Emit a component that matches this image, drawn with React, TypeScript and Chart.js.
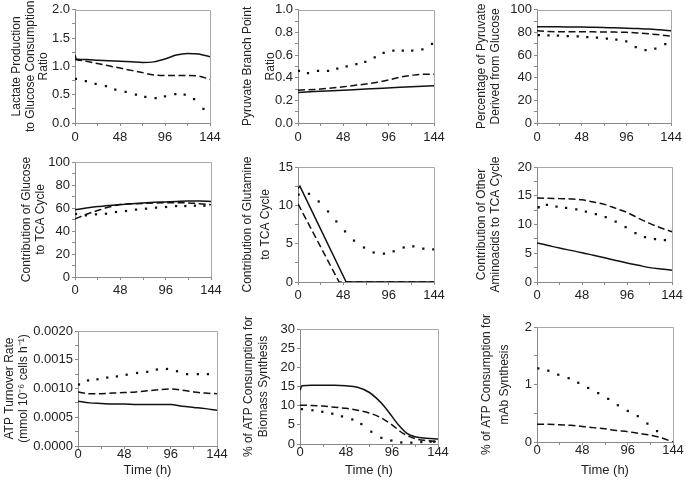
import React, { useEffect, useRef } from 'react';
import { Chart, registerables } from 'chart.js';
Chart.register(...registerables);

const FONT = "'Liberation Sans', Arial, Helvetica, sans-serif";

// ---------- data ----------
const timeGrid = [0, 12, 24, 36, 48, 60, 72, 84, 96, 108, 120, 132, 144];

// Panel 1: Lactate production / glucose consumption ratio
const lactateSolidT = [0, 1.5, 12, 24, 36, 48, 60, 72, 84, 96, 108, 120, 132, 144];
const lactateSolid = [1.2, 1.13, 1.12, 1.11, 1.1, 1.09, 1.08, 1.07, 1.08, 1.13, 1.2, 1.23, 1.22, 1.17];
const lactateDashed = [1.12, 1.09, 1.05, 1.01, 0.97, 0.93, 0.89, 0.85, 0.84, 0.84, 0.84, 0.83, 0.77];
const lactateDotT = [1, 11.6, 22, 33, 43, 54, 65, 75, 86, 96, 107, 117, 127, 137];
const lactateDot = [0.78, 0.74, 0.69, 0.65, 0.59, 0.55, 0.5, 0.46, 0.44, 0.47, 0.51, 0.5, 0.42, 0.25];

// Panel 2: Pyruvate branch point ratio
const branchSolidT = [0, 36, 72, 108, 144];
const branchSolid = [0.27, 0.285, 0.3, 0.315, 0.33];
const branchDashedT = [0, 24, 48, 72, 84, 96, 108, 120, 132, 144];
const branchDashed = [0.29, 0.3, 0.32, 0.345, 0.36, 0.38, 0.405, 0.42, 0.43, 0.43];
const branchDotT = [1, 10.6, 21.2, 31.8, 41.6, 51.5, 61.8, 71.3, 81.2, 90.7, 101, 111, 121, 131.7, 141.9];
const branchDot = [0.46, 0.44, 0.46, 0.46, 0.48, 0.5, 0.52, 0.54, 0.58, 0.62, 0.64, 0.64, 0.64, 0.65, 0.7];

// Panel 3: Percentage of pyruvate derived from glucose
const pyrSolid = [85, 85, 85, 84.8, 84.7, 84.5, 84.3, 84.1, 83.8, 83.4, 83, 82.3, 81.5];
const pyrDashed = [81.5, 80.8, 80.6, 80.5, 80.5, 80.5, 80.4, 80.3, 80.1, 79.6, 78.8, 77.8, 76.8];
const pyrDotT = [2, 12.3, 22.5, 33, 43.7, 54, 64.4, 75, 85.2, 95.8, 106, 116.5, 127, 137.7];
const pyrDot = [77.7, 77.4, 77.1, 76.8, 76.5, 75.9, 75.4, 74.5, 73.6, 72.2, 67, 64.3, 65.8, 69.6];

// Panel 4: Contribution of glucose to TCA cycle
const glcSolid = [58.5, 60, 61.2, 62.2, 63.1, 63.8, 64.4, 64.9, 65.3, 65.7, 66, 66, 65.7];
const glcDashed = [50.5, 54.5, 57.8, 60.8, 63, 63.6, 64, 64.3, 64.5, 64.6, 64.4, 63.8, 62.9];
const glcDotT = [1, 11.6, 22.2, 32.8, 43.4, 54, 64.6, 75.2, 85.8, 96.4, 107, 116.8, 127, 137];
const glcDot = [54.8, 53.6, 54.5, 55, 56.5, 57.4, 58.6, 59.4, 60.3, 60.9, 61.7, 61.7, 62, 62];

// Panel 5: Contribution of glutamine to TCA cycle
const glnSolidT = [0, 2, 51, 144];
const glnSolid = [12.2, 12.5, 0, 0];
const glnDashedT = [0, 43.5, 144];
const glnDashed = [10.2, 0, 0];
const glnDotT = [0.7, 11.6, 21.9, 31.8, 40.6, 49.8, 59.3, 69.9, 80.1, 91, 101.3, 111.9, 122.1, 132.7, 143.3];
const glnDot = [11.4, 11.5, 10.5, 9.2, 7.9, 6.6, 5.4, 4.5, 3.85, 3.7, 4.0, 4.5, 4.65, 4.35, 4.25];

// Panel 6: Contribution of other aminoacids to TCA cycle
const aaSolid = [6.8, 6.35, 5.9, 5.5, 5.1, 4.65, 4.2, 3.75, 3.3, 2.9, 2.5, 2.25, 2.05];
const aaDashed = [14.6, 14.55, 14.5, 14.45, 14.3, 13.9, 13.5, 12.8, 12.1, 11.1, 10.2, 9.4, 8.75];
const aaDotT = [1.8, 10.6, 20.8, 31, 41.9, 52.1, 62.7, 73.2, 83.8, 94.4, 104.9, 115.1, 125.7, 136.3];
const aaDot = [13.0, 13.4, 13.1, 12.9, 12.65, 12.25, 11.8, 11.3, 10.5, 9.55, 8.5, 7.8, 7.45, 7.3];

// Panel 7: ATP turnover rate
const atpSolid = [0.00078, 0.00075, 0.00074, 0.00073, 0.00073, 0.00072, 0.00072, 0.00072, 0.00072, 0.00069, 0.00067, 0.00065, 0.00062];
const atpDashed = [0.00094, 0.00091, 0.00091, 0.00092, 0.00093, 0.00094, 0.00096, 0.00098, 0.00099, 0.00097, 0.00094, 0.00092, 0.00091];
const atpDotT = [1, 10.4, 20.2, 30.3, 40.3, 50.4, 61.2, 71.7, 81.7, 92.2, 102.6, 113, 124.2, 134.6];
const atpDot = [0.00107, 0.00114, 0.00116, 0.00119, 0.00121, 0.00124, 0.00127, 0.00129, 0.00133, 0.00134, 0.0013, 0.00125, 0.00125, 0.00125];

// Panel 8: % of ATP consumption for biomass synthesis
const bioSolidT = [0, 2, 12, 24, 36, 48, 60, 72, 80, 88, 96, 104, 112, 120, 132, 144];
const bioSolid = [14, 15.2, 15.3, 15.3, 15.3, 15.2, 14.8, 13.5, 11.9, 9.8, 7.2, 4.6, 2.7, 1.9, 1.5, 1.3];
const bioDashed = [10.1, 10.05, 9.9, 9.6, 9.3, 8.8, 8.1, 6.9, 5.0, 2.7, 1.4, 0.9, 0.6];
const bioDotT = [2, 13, 23.3, 33.7, 43.8, 54.6, 64, 74.4, 84.9, 95.3, 105.7, 116.2, 126.6, 136.3, 140];
const bioDot = [9.1, 8.8, 8.4, 7.9, 7.2, 6.4, 5.2, 3.2, 1.6, 0.9, 0.4, 0.35, 0.5, 0.6, 0.6];

// Panel 9: % of ATP consumption for mAb synthesis
const mabDashed = [0.31, 0.31, 0.3, 0.29, 0.27, 0.25, 0.23, 0.2, 0.18, 0.15, 0.12, 0.07, 0.0];
const mabDotT = [1.4, 12, 22.5, 33.5, 43.7, 54.2, 64.8, 75.4, 85.6, 96.1, 106.7, 116.9, 127.1];
const mabDot = [1.28, 1.24, 1.17, 1.11, 1.03, 0.94, 0.85, 0.75, 0.64, 0.54, 0.45, 0.32, 0.19];

// ---------- layout ----------
const colX = [0, 228, 456];
const colW = [228, 228, 230];
const rowY = [0, 150, 310];
const rowH = [150, 160, 174];
const rowTickPad = [4, 3, -2];

type Series = { t: number[]; v: number[]; smooth?: boolean };
interface PanelSpec {
  title: string[];
  yMax: number;
  yMajor: number;
  yMinor: number;
  dec: number;
  solid?: Series;
  dashed?: Series;
  dotted?: Series;
  col: number;
  row: number;
  plot: [number, number, number, number]; // L, T, R, B
  tFirst: number;
  tLH: number;
  xTitle?: boolean;
}

const panels: PanelSpec[] = [
  {
    title: ['Lactate Production', 'to Glucose Consumption', 'Ratio'],
    yMax: 2, yMajor: 0.5, yMinor: 0.25, dec: 1,
    solid: { t: lactateSolidT, v: lactateSolid, smooth: true },
    dashed: { t: timeGrid, v: lactateDashed, smooth: true },
    dotted: { t: lactateDotT, v: lactateDot },
    col: 0, row: 0, plot: [75, 9, 210, 123], tFirst: 17, tLH: 13.5,
  },
  {
    title: ['Pyruvate Branch Point', 'Ratio'],
    yMax: 1, yMajor: 0.2, yMinor: 0.1, dec: 1,
    solid: { t: branchSolidT, v: branchSolid, smooth: true },
    dashed: { t: branchDashedT, v: branchDashed, smooth: true },
    dotted: { t: branchDotT, v: branchDot },
    col: 1, row: 0, plot: [298, 9, 434, 123], tFirst: 19.5, tLH: 23.5,
  },
  {
    title: ['Percentage of Pyruvate', 'Derived from Glucose'],
    yMax: 100, yMajor: 20, yMinor: 10, dec: 0,
    solid: { t: timeGrid, v: pyrSolid, smooth: true },
    dashed: { t: timeGrid, v: pyrDashed, smooth: true },
    dotted: { t: pyrDotT, v: pyrDot },
    col: 2, row: 0, plot: [537, 8, 673, 123], tFirst: 26, tLH: 13.5,
  },
  {
    title: ['Contribution of Glucose', 'to TCA Cycle'],
    yMax: 100, yMajor: 20, yMinor: 10, dec: 0,
    solid: { t: timeGrid, v: glcSolid, smooth: true },
    dashed: { t: timeGrid, v: glcDashed, smooth: true },
    dotted: { t: glcDotT, v: glcDot },
    col: 0, row: 1, plot: [75, 162, 211, 277], tFirst: 27, tLH: 14,
  },
  {
    title: ['Contribution of Glutamine', 'to TCA Cycle'],
    yMax: 15, yMajor: 5, yMinor: 2.5, dec: 0,
    solid: { t: glnSolidT, v: glnSolid, smooth: false },
    dashed: { t: glnDashedT, v: glnDashed, smooth: false },
    dotted: { t: glnDotT, v: glnDot },
    col: 1, row: 1, plot: [298, 167, 434, 282], tFirst: 19.5, tLH: 18,
  },
  {
    title: ['Contribution of Other', 'Aminoacids to TCA Cycle'],
    yMax: 20, yMajor: 5, yMinor: 2.5, dec: 0,
    solid: { t: timeGrid, v: aaSolid, smooth: true },
    dashed: { t: timeGrid, v: aaDashed, smooth: true },
    dotted: { t: aaDotT, v: aaDot },
    col: 2, row: 1, plot: [537, 167, 673, 282], tFirst: 26, tLH: 13.5,
  },
  {
    title: ['ATP Turnover Rate', '(mmol 10\u207B\u2076 cells h\u207B\u00B9)'],
    yMax: 0.002, yMajor: 0.0005, yMinor: 0.00025, dec: 4,
    solid: { t: timeGrid, v: atpSolid, smooth: true },
    dashed: { t: timeGrid, v: atpDashed, smooth: true },
    dotted: { t: atpDotT, v: atpDot },
    col: 0, row: 2, plot: [78, 331, 217, 446], tFirst: 9.5, tLH: 14.5, xTitle: true,
  },
  {
    title: ['% of ATP Consumption for', 'Biomass Synthesis'],
    yMax: 30, yMajor: 5, yMinor: 5, dec: 0,
    solid: { t: bioSolidT, v: bioSolid, smooth: true },
    dashed: { t: timeGrid, v: bioDashed, smooth: true },
    dotted: { t: bioDotT, v: bioDot },
    col: 1, row: 2, plot: [300, 329, 438, 444], tFirst: 21, tLH: 15, xTitle: true,
  },
  {
    title: ['% of ATP Consumption for', 'mAb Synthesis'],
    yMax: 2, yMajor: 1, yMinor: 0.5, dec: 0,
    dashed: { t: timeGrid, v: mabDashed, smooth: true },
    dotted: { t: mabDotT, v: mabDot },
    col: 2, row: 2, plot: [537, 327, 673, 442], tFirst: 31, tLH: 17.5, xTitle: true,
  },
];

const AXIS = '#8a8a8a';
const TEXT = '#222';
const LINE = '#111';

const framePlugin = {
  id: 'frame',
  afterDraw(chart: any) {
    const { ctx, chartArea } = chart;
    const { left, top, right, bottom } = chartArea;
    ctx.save();
    ctx.strokeStyle = '#a8a8a8';
    ctx.lineWidth = 1;
    ctx.beginPath();
    const t = Math.round(top) + 0.5;
    const r = Math.round(right) + 0.5;
    ctx.moveTo(Math.round(left), t);
    ctx.lineTo(r, t);
    ctx.lineTo(r, Math.round(bottom));
    ctx.stroke();
    ctx.restore();
  },
};

const toPts = (t: number[], v: number[]) => t.map((x, i) => ({ x, y: v[i] }));

function Panel({ spec }: { spec: PanelSpec }) {
  const ref = useRef<HTMLCanvasElement | null>(null);
  const cx = colX[spec.col];
  const cw = colW[spec.col];
  const ry = rowY[spec.row];
  const rh = rowH[spec.row];
  const [pl, pt, pr, pb] = spec.plot;

  useEffect(() => {
    if (!ref.current) return;
    const datasets: any[] = [];
    if (spec.solid) {
      datasets.push({
        data: toPts(spec.solid.t, spec.solid.v),
        showLine: true,
        borderColor: LINE,
        borderWidth: 1.5,
        pointRadius: 0,
        cubicInterpolationMode: spec.solid.smooth ? 'monotone' : 'default',
        tension: 0,
      });
    }
    if (spec.dashed) {
      datasets.push({
        data: toPts(spec.dashed.t, spec.dashed.v),
        showLine: true,
        borderColor: LINE,
        borderWidth: 1.5,
        borderDash: [7, 3.5],
        pointRadius: 0,
        cubicInterpolationMode: spec.dashed.smooth ? 'monotone' : 'default',
        tension: 0,
      });
    }
    if (spec.dotted) {
      datasets.push({
        data: toPts(spec.dotted.t, spec.dotted.v),
        showLine: false,
        pointStyle: 'rect',
        pointRadius: 1.6,
        pointBorderWidth: 0,
        pointBackgroundColor: LINE,
        borderColor: LINE,
      });
    }
    const isMajor = (v: number, m: number) => Math.abs(v / m - Math.round(v / m)) < 1e-6;
    const chart = new Chart(ref.current, {
      type: 'scatter',
      data: { datasets },
      plugins: [framePlugin],
      options: {
        animation: false,
        responsive: false,
        devicePixelRatio: 1,
        layout: { padding: { left: 0, top: pt - ry, right: cx + cw - pr, bottom: 0 } },
        plugins: { legend: { display: false }, tooltip: { enabled: false } },
        scales: {
          x: {
            type: 'linear',
            min: 0,
            max: 144,
            afterFit: (s: any) => { s.height = ry + rh - pb; },
            ticks: {
              stepSize: 24,
              autoSkip: false,
              maxRotation: 0,
              padding: rowTickPad[spec.row],
              color: TEXT,
              font: { family: FONT, size: 13 },
              callback: (v: any) => (isMajor(Number(v), 48) ? String(v) : ''),
            },
            grid: { drawOnChartArea: false, tickLength: 3, color: AXIS },
            border: { color: AXIS, width: 1 },
            title: spec.xTitle
              ? { display: true, text: 'Time (h)', color: TEXT, font: { family: FONT, size: 13 }, padding: { top: 0, bottom: 6 } }
              : { display: false },
          },
          y: {
            type: 'linear',
            min: 0,
            max: spec.yMax,
            afterFit: (s: any) => { s.width = pl - cx; },
            ticks: {
              stepSize: spec.yMinor,
              autoSkip: false,
              padding: 2,
              color: TEXT,
              font: { family: FONT, size: 13 },
              callback: (v: any) => (isMajor(Number(v), spec.yMajor) ? Number(v).toFixed(spec.dec) : ''),
            },
            grid: { drawOnChartArea: false, tickLength: 3, color: AXIS },
            border: { color: AXIS, width: 1 },
            title: {
              display: true,
              text: spec.title,
              color: TEXT,
              font: { family: FONT, size: 12, lineHeight: spec.tLH / 12 },
              padding: { top: spec.tFirst - spec.tLH / 2, bottom: 0 },
            },
          },
        },
      } as any,
    });
    return () => chart.destroy();
  }, []);

  return (
    <div style={{ position: 'absolute', left: cx, top: ry, width: cw, height: rh }}>
      <canvas ref={ref} width={cw} height={rh} style={{ width: cw, height: rh, display: 'block' }} />
    </div>
  );
}

export default function App() {
  return (
    <div style={{ position: 'fixed', left: 0, top: 0, width: 686, height: 484, background: '#fff', overflow: 'hidden' }}>
      {panels.map((p, i) => (
        <Panel key={i} spec={p} />
      ))}
    </div>
  );
}
